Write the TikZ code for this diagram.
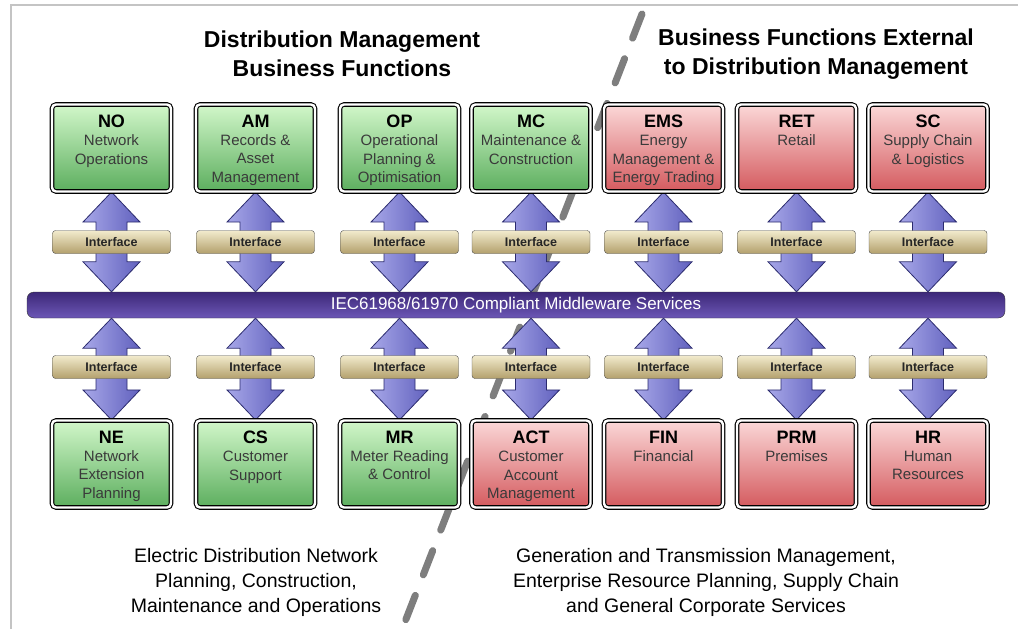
\documentclass[tikz,border=0pt]{standalone}
\usepackage{fontspec}
\setmainfont{Liberation Sans}
\usepackage{xcolor}
\usetikzlibrary{backgrounds,calc}
\definecolor{gntop}{HTML}{D2F7CA}
\definecolor{gnbot}{HTML}{5CAE5E}
\definecolor{rdtop}{HTML}{FBD8D8}
\definecolor{rdbot}{HTML}{D45A5E}
\definecolor{ifctop}{HTML}{F2EBCD}
\definecolor{ifcbot}{HTML}{B3A06C}
\definecolor{bustop}{HTML}{3D2878}
\definecolor{busbot}{HTML}{6C57B6}
\definecolor{arrlt}{HTML}{A7A7E8}
\definecolor{arrdk}{HTML}{6161BE}
\definecolor{arrline}{HTML}{2B2B6E}
\definecolor{txtgray}{HTML}{3A3A3A}
\definecolor{framegray}{HTML}{C4C4C4}
\definecolor{dashgray}{HTML}{7E7E7E}
\newcommand{\fnlabel}[2]{\begin{minipage}[c][84pt][t]{116pt}\centering
  \vspace*{9pt}{\fontsize{18}{20}\selectfont\bfseries #1\par}
  {\fontsize{15}{18.3}\selectfont\color{txtgray}#2\par}\end{minipage}}
\newcommand{\biarrow}[2]{%
  \path[dbl] let \p1=#1, \p2=#2 in
    (\x1,\y1) -- (\x1+28.5pt,\y1-30pt) -- (\x1+15.5pt,\y1-30pt)
    -- (\x1+15.5pt,\y2+30pt) -- (\x1+28.5pt,\y2+30pt) -- (\x1,\y2)
    -- (\x1-28.5pt,\y2+30pt) -- (\x1-15.5pt,\y2+30pt)
    -- (\x1-15.5pt,\y1-30pt) -- (\x1-28.5pt,\y1-30pt) -- cycle;}

\begin{document}
\begin{tikzpicture}[x=1pt,y=-1pt,
  fn/.style={draw=black,double=white,double distance=2.4pt,line width=1.1pt,
             rounded corners=4pt,inner sep=0pt,minimum width=119pt,minimum height=87pt,
             top color=#1top,bottom color=#1bot},
  iface/.style={draw=black!70,rounded corners=3pt,top color=ifctop,bottom color=ifcbot,
             minimum width=118pt,minimum height=23pt,inner sep=0pt,
             font=\fontsize{12.5}{14}\selectfont\bfseries,text=black!85},
  bus/.style={draw=black!80,rounded corners=7pt,top color=bustop,bottom color=busbot,
             minimum width=978pt,minimum height=26pt,inner sep=0pt,
             font=\fontsize{17}{19}\selectfont,text=white},
  dbl/.style={draw=arrline,line width=0.8pt,left color=arrlt,right color=arrdk},
  heading/.style={align=center,font=\fontsize{23}{28.5}\selectfont\bfseries},
  note/.style={align=center,font=\fontsize{19.5}{25}\selectfont}]
  \useasboundingbox (0,0) rectangle (1018,629);
  \draw[framegray,line width=2pt] (1018,5) -- (11,5) -- (11,629);

  \node[heading] (hdm) at (342,54) {Distribution Management\\Business Functions};
  \node[heading] (hext) at (816,54) {Business Functions External\\to Distribution Management};

  \node[bus] (bus) at (516,305) {IEC61968/61970 Compliant Middleware Services};

  % upper row
  \foreach \n/\x/\s/\d in {NO/111.5/gn/{Network\\Operations},
      AM/255.5/gn/{Records \&\\Asset\\Management},
      OP/399.5/gn/{Operational\\Planning \&\\Optimisation},
      MC/531/gn/{Maintenance \&\\Construction},
      EMS/663.5/rd/{Energy\\Management \&\\Energy Trading},
      RET/796.5/rd/{Retail},
      SC/928/rd/{Supply Chain\\\& Logistics}}{
    \node[fn=\s] (\n) at (\x,148) {\fnlabel{\n}{\d}};
    \node[iface] (if\n) at (\x,242) {Interface};
  }
  % lower row
  \foreach \n/\x/\s/\d in {NE/111.5/gn/{Network\\Extension\\Planning},
      CS/255.5/gn/{Customer\\Support},
      MR/399.5/gn/{Meter Reading\\\& Control},
      ACT/531/rd/{Customer\\Account\\Management},
      FIN/663.5/rd/{Financial},
      PRM/796.5/rd/{Premises},
      HR/928/rd/{Human\\Resources}}{
    \node[fn=\s] (\n) at (\x,464) {\fnlabel{\n}{\d}};
    \node[iface] (if\n) at (\x,367) {Interface};
  }

  \node[note] (nleft) at (256,582) {Electric Distribution Network\\Planning, Construction,\\Maintenance and Operations};
  \node[note] (nright) at (706,582) {Generation and Transmission Management,\\Enterprise Resource Planning, Supply Chain\\and General Corporate Services};

  \begin{scope}[on background layer]
    \draw[dashgray,line width=7pt,line cap=round,dash pattern=on 26pt off 22pt] (642,14) -- (401,632);
    \foreach \t/\b in {NO/NE,AM/CS,OP/MR,MC/ACT,EMS/FIN,RET/PRM,SC/HR}{
      \biarrow{(\t.south)}{(\t.south |- bus.north)}
      \biarrow{(\b.north |- bus.south)}{(\b.north)}
    }
  \end{scope}
\end{tikzpicture}
\end{document}
